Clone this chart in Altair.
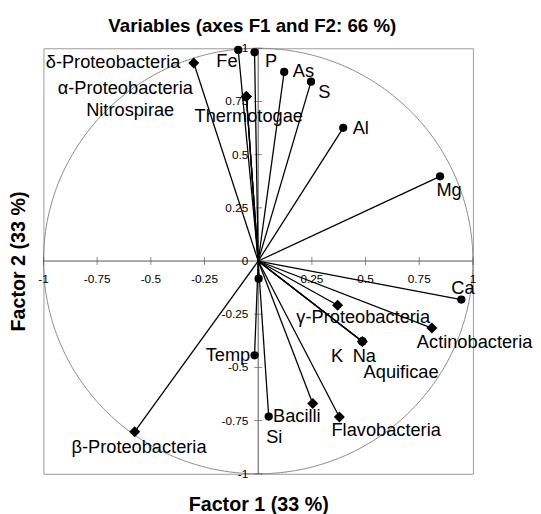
import altair as alt
import pandas as pd

FONT = "Liberation Sans"

# Variables (circles)
var_names = ["Fe", "P", "As", "S", "Al", "Mg", "Ca", "K", "Na", "Temp", "Si", ""]
var_f1 = [-0.093, -0.017, 0.121, 0.246, 0.396, 0.847, 0.946, 0.485, 0.485, -0.017, 0.049, 0.002]
var_f2 = [0.992, 0.981, 0.889, 0.843, 0.626, 0.398, -0.181, -0.378, -0.378, -0.443, -0.731, -0.083]

# Supplementary (diamonds)
sp_names = ["δ-Proteobacteria", "α-Proteobacteria", "Nitrospirae", "Thermotogae",
            "γ-Proteobacteria", "Actinobacteria", "Aquificae", "Flavobacteria",
            "Bacilli", "β-Proteobacteria"]
sp_f1 = [-0.300, -0.055, -0.055, -0.055, 0.370, 0.809, 0.485, 0.378, 0.254, -0.575]
sp_f2 = [0.931, 0.773, 0.773, 0.773, -0.208, -0.315, -0.378, -0.733, -0.670, -0.802]

# Label anchors (as placed in the figure)
label_text = ["δ-Proteobacteria", "Fe", "P", "As", "S", "Al", "α-Proteobacteria",
              "Nitrospirae", "Thermotogae", "Mg", "Ca", "γ-Proteobacteria",
              "Actinobacteria", "K", "Na", "Aquificae", "Temp", "Bacilli", "Si",
              "β-Proteobacteria", "Flavobacteria"]
label_f1 = [-0.362, -0.096, 0.032, 0.161, 0.280, 0.440, -0.619, -0.596, -0.044,
            0.830, 0.899, 0.489, 0.739, 0.339, 0.440, 0.491, -0.037, 0.069, 0.037,
            -0.555, 0.596]
label_f2 = [0.935, 0.940, 0.940, 0.894, 0.796, 0.625, 0.815, 0.708, 0.681,
            0.333, -0.125, -0.264, -0.380, -0.449, -0.449, -0.523, -0.440, -0.731,
            -0.829, -0.875, -0.796]
label_align = ["right", "right", "left", "left", "left", "left", "center",
               "center", "center", "left", "left", "center", "left", "left",
               "left", "left", "right", "left", "left", "center", "center"]

tick_values = [-1, -0.75, -0.5, -0.25, 0, 0.25, 0.5, 0.75, 1]
tick_labels = ["-1", "-0.75", "-0.5", "-0.25", "0", "0.25", "0.5", "0.75", "1"]

var_df = pd.DataFrame({"name": var_names, "f1": var_f1, "f2": var_f2})
sp_df = pd.DataFrame({"name": sp_names, "f1": sp_f1, "f2": sp_f2})
lab_df = pd.DataFrame({"text": label_text, "f1": label_f1, "f2": label_f2, "align": label_align})
tick_df = pd.DataFrame({"v": tick_values, "label": tick_labels})
all_df = pd.concat([var_df, sp_df], ignore_index=True)

xs = alt.Scale(domain=[-1, 1], nice=False, zero=False)
ys = alt.Scale(domain=[-1, 1], nice=False, zero=False)
x_axis = alt.Axis(title="Factor 1 (33 %)", labels=False, ticks=False, domain=False,
                  grid=False, titleFontSize=20, titleFontWeight="bold", titleFont=FONT,
                  titlePadding=21, titleColor="black")
y_axis = alt.Axis(title="Factor 2 (33 %)", labels=False, ticks=False, domain=False,
                  grid=False, titleFontSize=20, titleFontWeight="bold", titleFont=FONT,
                  titlePadding=15, titleColor="black")


def X(f):
    return alt.X(f, type="quantitative", scale=xs, axis=x_axis)


def Y(f):
    return alt.Y(f, type="quantitative", scale=ys, axis=y_axis)


# Unit correlation circle
circle = alt.Chart(alt.sequence(0, 361, 1, as_="deg")).transform_calculate(
    cx="cos(datum.deg*PI/180)", cy="sin(datum.deg*PI/180)"
).mark_line(color="#8a8a8a", strokeWidth=1).encode(
    x=X("cx"), y=Y("cy"), order="deg:Q"
)

# Zero axes
ax_base = alt.Chart(tick_df).transform_aggregate(lo="min(v)", hi="max(v)").transform_calculate(z="0")
h_axis = ax_base.mark_rule(color="#555555", strokeWidth=1).encode(x=X("lo"), x2="hi:Q", y=Y("z"))
v_axis = ax_base.mark_rule(color="#555555", strokeWidth=1).encode(y=Y("lo"), y2="hi:Q", x=X("z"))

tick_base = alt.Chart(tick_df).transform_calculate(z="0")
x_ticks = tick_base.transform_filter("datum.v != 0").mark_tick(
    orient="vertical", size=8, thickness=1, color="#555555"
).encode(x=X("v"), y=Y("z"))
y_ticks = tick_base.transform_filter("datum.v != 0").mark_tick(
    orient="horizontal", size=8, thickness=1, color="#555555"
).encode(y=Y("v"), x=X("z"))
x_tick_labels = tick_base.transform_filter("datum.v != 0").mark_text(
    dy=18, align="center", baseline="middle", fontSize=12, font=FONT, color="black"
).encode(x=X("v"), y=Y("z"), text="label:N")
y_tick_labels = tick_base.mark_text(
    dx=-10, align="right", baseline="middle", fontSize=12, font=FONT, color="black"
).encode(y=Y("v"), x=X("z"), text="label:N")

# Vectors from origin
vectors = alt.Chart(all_df).transform_calculate(o="0").mark_rule(
    color="black", strokeWidth=1.3
).encode(x=X("o"), y=Y("o"), x2="f1:Q", y2="f2:Q")

var_pts = alt.Chart(var_df).mark_point(
    shape="circle", filled=True, color="black", size=70, opacity=1
).encode(x=X("f1"), y=Y("f2"))
sp_pts = alt.Chart(sp_df).mark_point(
    shape="diamond", filled=True, color="black", size=125, opacity=1
).encode(x=X("f1"), y=Y("f2"))

labels = []
for al in ["left", "center", "right"]:
    labels.append(
        alt.Chart(lab_df).transform_filter(f"datum.align == '{al}'").mark_text(
            align=al, baseline="middle", fontSize=18.5, font=FONT, color="black"
        ).encode(x=X("f1"), y=Y("f2"), text="text:N")
    )

chart = alt.layer(
    circle, h_axis, v_axis, x_ticks, y_ticks, x_tick_labels, y_tick_labels,
    vectors, var_pts, sp_pts, *labels
).properties(
    width=436,
    height=432,
    autosize=alt.AutoSizeParams(type="none"),
    padding={"left": 36, "top": 37, "right": 61, "bottom": 40},
    title=alt.Title("Variables (axes F1 and F2: 66 %)", fontSize=19, fontWeight="bold",
                    font=FONT, anchor="middle", color="black", offset=7, dx=-6),
).configure_view(stroke="#9a9a9a", strokeWidth=1)

chart.save("out.html", embed_options={"renderer": "svg", "actions": False})
